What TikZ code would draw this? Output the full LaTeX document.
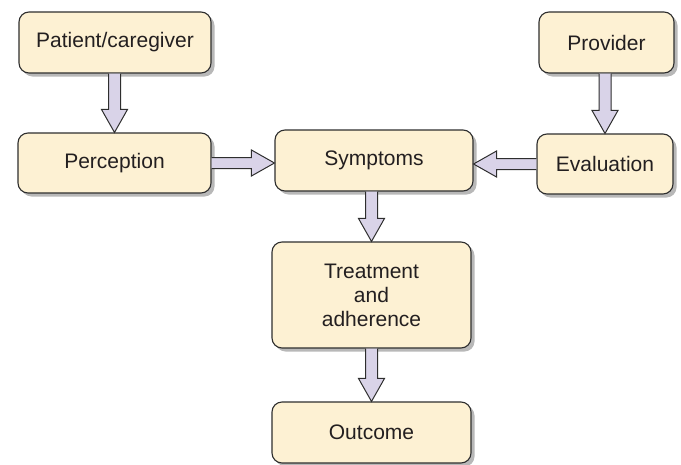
\documentclass[tikz,border=0pt]{standalone}
\usepackage{fontspec}
\setmainfont{Liberation Sans}
\usetikzlibrary{calc,shadows}
\definecolor{boxfill}{HTML}{FDF1D3}
\definecolor{arrfill}{HTML}{D9D3E8}
\definecolor{edge}{HTML}{2E2E2E}
\definecolor{txt}{HTML}{231F20}
\tikzset{
  box/.style={draw=edge, line width=1.1pt, fill=boxfill, rounded corners=10pt,
    drop shadow={shadow xshift=3.5pt, shadow yshift=-3.5pt, fill=black!28, opacity=1},
    font=\fontsize{21}{24}\selectfont, text=txt, align=center, inner sep=0pt},
  fatarr/.style={draw=edge, line width=1pt, fill=arrfill, line join=miter}
}
\newcommand\vfat[2]{%
  \path let \p1=(#1), \p2=(#2) in
    [fill=arrfill] (\x1-6pt,\y1) -- (\x1-6pt,\y2+23pt) -- (\x1-13pt,\y2+23pt) -- (\x1,\y2) -- (\x1+13pt,\y2+23pt) -- (\x1+6pt,\y2+23pt) -- (\x1+6pt,\y1) -- cycle;
  \draw[fatarr, fill=none] let \p1=(#1), \p2=(#2) in
    (\x1-6pt,\y1) -- (\x1-6pt,\y2+23pt) -- (\x1-13pt,\y2+23pt) -- (\x1,\y2) -- (\x1+13pt,\y2+23pt) -- (\x1+6pt,\y2+23pt) -- (\x1+6pt,\y1);}
\newcommand\hfat[3]{% #3 = +1 rightward, -1 leftward
  \path let \p1=(#1), \p2=(#2) in
    [fill=arrfill] (\x1,\y1+5.5pt) -- (\x2-#3*23pt,\y1+5.5pt) -- (\x2-#3*23pt,\y1+13pt) -- (\x2,\y1) -- (\x2-#3*23pt,\y1-13pt) -- (\x2-#3*23pt,\y1-5.5pt) -- (\x1,\y1-5.5pt) -- cycle;
  \draw[fatarr, fill=none] let \p1=(#1), \p2=(#2) in
    (\x1,\y1+5.5pt) -- (\x2-#3*23pt,\y1+5.5pt) -- (\x2-#3*23pt,\y1+13pt) -- (\x2,\y1) -- (\x2-#3*23pt,\y1-13pt) -- (\x2-#3*23pt,\y1-5.5pt) -- (\x1,\y1-5.5pt);}
\begin{document}
\begin{tikzpicture}[x=1pt,y=-1pt]
\useasboundingbox (0,0) rectangle (681,464);
\node[box, minimum width=192pt, minimum height=61pt] (pc) at (115,42.5) {Patient/caregiver};
\node[box, minimum width=193pt, minimum height=60pt] (per) at (114.5,163) {Perception};
\node[box, minimum width=198pt, minimum height=61pt] (sym) at (374,160.5) {Symptoms};
\node[box, minimum width=135pt, minimum height=61pt] (prov) at (606.5,42.5) {Provider};
\node[box, minimum width=136pt, minimum height=60pt] (eval) at (605,164) {Evaluation};
\node[box, minimum width=199pt, minimum height=106pt] (treat) at (371.5,295) {Treatment\\and\\adherence};
\node[box, minimum width=199pt, minimum height=61pt] (out) at (371.5,432.5) {Outcome};
\vfat{pc.south -| per.north}{per.north}
\vfat{prov.south -| eval.north}{eval.north}
\vfat{sym.south -| treat.north}{treat.north}
\vfat{treat.south}{out.north}
\hfat{per.east}{per.east -| sym.west}{1}
\hfat{eval.west}{eval.west -| sym.east}{-1}
\end{tikzpicture}
\end{document}
